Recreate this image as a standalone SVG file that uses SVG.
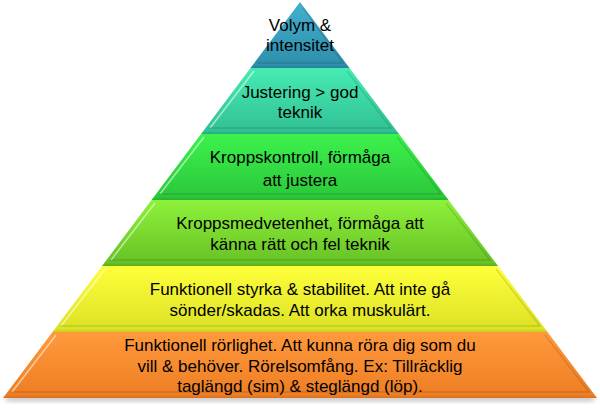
<svg xmlns="http://www.w3.org/2000/svg" width="600" height="413" viewBox="0 0 600 413">
<defs>
<linearGradient id="gBlue" x1="0" y1="0" x2="0" y2="1"><stop offset="0" stop-color="#45B0CF"/><stop offset="0.95" stop-color="#2E8FAB"/><stop offset="1" stop-color="#27809A"/></linearGradient>
<linearGradient id="gTeal" x1="0" y1="0" x2="0" y2="1"><stop offset="0" stop-color="#46ECB2"/><stop offset="0.95" stop-color="#32C196"/><stop offset="1" stop-color="#2AA882"/></linearGradient>
<linearGradient id="gGreen" x1="0" y1="0" x2="0" y2="1"><stop offset="0" stop-color="#3CF24C"/><stop offset="0.95" stop-color="#2CC83B"/><stop offset="1" stop-color="#26B034"/></linearGradient>
<linearGradient id="gLime" x1="0" y1="0" x2="0" y2="1"><stop offset="0" stop-color="#8EF23A"/><stop offset="0.95" stop-color="#68C226"/><stop offset="1" stop-color="#5AAE1E"/></linearGradient>
<linearGradient id="gYellow" x1="0" y1="0" x2="0" y2="1"><stop offset="0" stop-color="#FFFF3A"/><stop offset="0.95" stop-color="#DCE226"/><stop offset="1" stop-color="#C8CC1E"/></linearGradient>
<linearGradient id="gOrange" x1="0" y1="0" x2="0" y2="1"><stop offset="0" stop-color="#FF9A3C"/><stop offset="0.95" stop-color="#EE7E24"/><stop offset="1" stop-color="#DC701C"/></linearGradient>
<filter id="shadow" x="-10%" y="-50%" width="120%" height="200%"><feGaussianBlur stdDeviation="2.5"/></filter>
</defs>
<style>
.lbl{font-family:"Liberation Sans",Arial,sans-serif;font-size:17px;fill:#000;text-anchor:middle}
.hi{fill:none;stroke:#FFFFFF;stroke-opacity:0.55;stroke-width:1.5}
.lo{fill:none;stroke:#000000;stroke-opacity:0.12;stroke-width:1.5}
</style>
<rect x="6" y="396" width="588" height="5" fill="#808080" opacity="0.5" filter="url(#shadow)"/>
<g id="tier1">
<polygon points="300,2 349.5,68 250.5,68" fill="url(#gBlue)"/>
<polyline class="lo" points="303,8 343,63 257,63"/>
<text class="lbl" x="300" y="31">Volym &amp;</text>
<text class="lbl" x="300" y="51">intensitet</text>
</g>
<g id="tier2">
<polygon points="250.5,68 349.5,68 399,134 201,134" fill="url(#gTeal)"/>
<polyline class="hi" points="210,128 254,71"/>
<polyline class="lo" points="347,71 391,128 209,128"/>
<text class="lbl" x="300" y="98">Justering &gt; god</text>
<text class="lbl" x="300" y="118">teknik</text>
</g>
<g id="tier3">
<polygon points="201,134 399,134 448.5,200 151.5,200" fill="url(#gGreen)"/>
<polyline class="hi" points="160,194 204,137"/>
<polyline class="lo" points="397,137 441,194 159,194"/>
<text class="lbl" x="300" y="163">Kroppskontroll, förmåga</text>
<text class="lbl" x="300" y="186">att justera</text>
</g>
<g id="tier4">
<polygon points="151.5,200 448.5,200 498,266 102,266" fill="url(#gLime)"/>
<polyline class="hi" points="111,260 155,203"/>
<polyline class="lo" points="446,203 490,260 110,260"/>
<text class="lbl" x="300" y="229">Kroppsmedvetenhet, förmåga att</text>
<text class="lbl" x="300" y="250">känna rätt och fel teknik</text>
</g>
<g id="tier5">
<polygon points="102,266 498,266 547.5,332 52.5,332" fill="url(#gYellow)"/>
<polyline class="hi" points="61,326 105,269"/>
<polyline class="lo" points="496,269 540,326 60,326"/>
<text class="lbl" x="300" y="295">Funktionell styrka &amp; stabilitet. Att inte gå</text>
<text class="lbl" x="300" y="316">sönder/skadas. Att orka muskulärt.</text>
</g>
<g id="tier6">
<polygon points="52.5,332 547.5,332 597,398 3,398" fill="url(#gOrange)"/>
<polyline class="hi" points="12,392 56,335"/>
<polyline class="lo" points="545,335 589,392 11,392"/>
<text class="lbl" x="300" y="351">Funktionell rörlighet. Att kunna röra dig som du</text>
<text class="lbl" x="300" y="372">vill &amp; behöver. Rörelsomfång. Ex: Tillräcklig</text>
<text class="lbl" x="300" y="392">taglängd (sim) &amp; steglängd (löp).</text>
</g>
</svg>
